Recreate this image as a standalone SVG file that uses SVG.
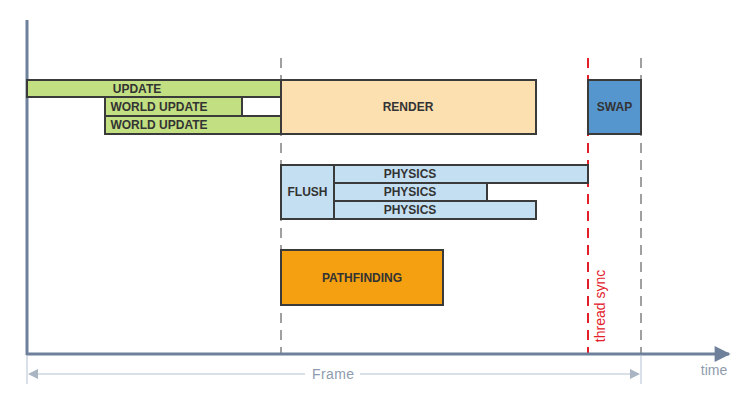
<svg xmlns="http://www.w3.org/2000/svg" width="750" height="404" viewBox="0 0 750 404">
<defs>
<style>
.box{stroke:#3a3a3a;stroke-width:2}
.lbl{font-family:"Liberation Sans",Arial,sans-serif;font-weight:bold;font-size:12px;fill:#333;text-anchor:middle;dominant-baseline:central}
.green{fill:#c2df82}
.render{fill:#fde0b0}
.blue{fill:#c4dff2}
.swap{fill:#5596cf}
.orange{fill:#f4a011}
.guide{stroke:#a0a0a0;stroke-width:2;stroke-dasharray:10,7;fill:none}
.sync{stroke:#e3202a;stroke-width:2;stroke-dasharray:10,7;fill:none}
.axis{stroke:#6f809b;stroke-width:3;fill:none}
.dim{stroke:#cdd6df;stroke-width:1.5;fill:none}
.soft{font-family:"Liberation Sans",Arial,sans-serif;font-size:14px;fill:#8e9cad}
</style>
<marker id="axhead" viewBox="0 0 10 10" refX="9" refY="5" markerWidth="18" markerHeight="16" markerUnits="userSpaceOnUse" orient="auto">
<path d="M0,0 L10,5 L0,10 z" fill="#6f809b"/>
</marker>
<marker id="dimhead" viewBox="0 0 10 10" refX="0" refY="5" markerWidth="10" markerHeight="10" markerUnits="userSpaceOnUse" orient="auto-start-reverse">
<path d="M0,0 L10,5 L0,10 z" fill="#a9b5c2"/>
</marker>
</defs>
<rect width="750" height="404" fill="#fff"/>
<g id="connectors">
<line class="guide" x1="281" y1="58" x2="281" y2="354"/>
<line class="guide" x1="641" y1="58" x2="641" y2="354"/>
<line class="sync" x1="588" y1="58" x2="588" y2="354"/>
<line class="axis" x1="27" y1="20" x2="27" y2="355"/>
<line class="axis" x1="26" y1="354" x2="729" y2="354" marker-end="url(#axhead)"/>
<line class="dim" x1="27" y1="356" x2="27" y2="384"/>
<line class="dim" x1="641" y1="356" x2="641" y2="384"/>
<line class="dim" x1="38" y1="374" x2="305" y2="374" marker-start="url(#dimhead)"/>
<line class="dim" x1="360" y1="374" x2="630" y2="374" marker-end="url(#dimhead)"/>
</g>
<g id="update"><rect class="box green" x="27" y="80" width="254" height="17"/><text class="lbl" x="137" y="89">UPDATE</text></g>
<g id="worldupdate1"><rect class="box green" x="105" y="97" width="137" height="19"/><rect class="box" x="242" y="97" width="39" height="19" fill="#fff"/><text class="lbl" x="159" y="107">WORLD UPDATE</text></g>
<g id="worldupdate2"><rect class="box green" x="105" y="116" width="176" height="18"/><text class="lbl" x="159" y="125">WORLD UPDATE</text></g>
<g id="render"><rect class="box render" x="281" y="80" width="255" height="54"/><text class="lbl" x="408" y="107">RENDER</text></g>
<g id="swap"><rect class="box swap" x="588" y="80" width="53" height="54"/><text class="lbl" x="614.5" y="107">SWAP</text></g>
<g id="flush"><rect class="box blue" x="281" y="165" width="53" height="54"/><text class="lbl" x="307.5" y="192">FLUSH</text></g>
<g id="physics1"><rect class="box blue" x="334" y="165" width="254" height="18"/><text class="lbl" x="410" y="174">PHYSICS</text></g>
<g id="physics2"><rect class="box blue" x="334" y="183" width="153" height="18"/><text class="lbl" x="410" y="192">PHYSICS</text></g>
<g id="physics3"><rect class="box blue" x="334" y="201" width="202" height="18"/><text class="lbl" x="410" y="210">PHYSICS</text></g>
<g id="pathfinding"><rect class="box orange" x="281" y="250" width="162" height="55"/><text class="lbl" x="362" y="278">PATHFINDING</text></g>
<text x="600" y="306" transform="rotate(-90 600 306)" font-family="'Liberation Sans',Arial,sans-serif" font-size="14" fill="#e3202a" text-anchor="middle" dominant-baseline="central">thread sync</text>
<text class="soft" x="333" y="374" text-anchor="middle" dominant-baseline="central" textLength="42">Frame</text>
<text class="soft" x="714" y="370" text-anchor="middle" dominant-baseline="central">time</text>
</svg>
